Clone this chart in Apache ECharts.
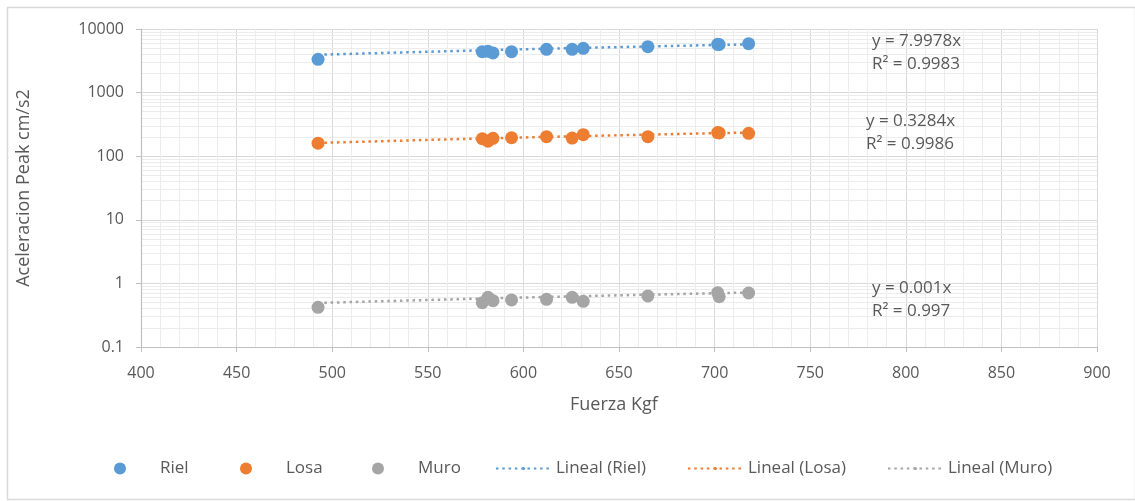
<!DOCTYPE html>
<html>
<head>
<meta charset="utf-8">
<script src="https://cdn.jsdelivr.net/npm/echarts@6/dist/echarts.min.js"></script>
<style>
  html, body { margin: 0; padding: 0; background: #fff; }
  #chart { width: 1135px; height: 501px; }
</style>
</head>
<body>
<div id="chart"></div>
<script>
// Applied force (kgf) for each test run
const fuerza = [492.6, 578.5, 581.5, 584.1, 593.8, 612.1, 625.5, 631.3, 665.1, 701.6, 702.4, 717.8];
// Peak acceleration (cm/s2) measured on the rail, the slab and the wall
const riel = [3340, 4400, 4450, 4200, 4400, 4790, 4790, 4970, 5270, 5740, 5700, 5880];
const losa = [160, 188, 172, 191, 195, 203, 193, 218, 203, 235, 232, 229];
const muro = [0.421, 0.498, 0.604, 0.535, 0.55, 0.562, 0.604, 0.523, 0.634, 0.715, 0.618, 0.706];

// Linear trendlines through the origin: slope and R²
const seriesNames = ['Riel', 'Losa', 'Muro'];
const trendSlope = [7.9978, 0.3284, 0.001];
const trendR2 = ['0.9983', '0.9986', '0.997'];

// Axis ranges and ticks
const xTicks = [400, 450, 500, 550, 600, 650, 700, 750, 800, 850, 900];
const yTicks = [0.1, 1, 10, 100, 1000, 10000];

const colors = ['#5B9BD5', '#ED7D31', '#A5A5A5'];
const FONT = '"Open Sans", "Noto Sans", sans-serif';
const TEXT = '#595959';

const values = [riel, losa, muro];

// Log-spaced minor gridlines (2..9 within each decade)
const minorY = [];
for (let d = 0; d < yTicks.length - 1; d++) {
  for (let m = 2; m <= 9; m++) minorY.push({ yAxis: +(yTicks[d] * m).toPrecision(3) });
}

const xsSorted = Array.from(new Set(fuerza)).sort((a, b) => a - b);

const series = [];
seriesNames.forEach((name, i) => {
  series.push({
    name: name,
    type: 'scatter',
    symbol: 'circle',
    symbolSize: 13,
    itemStyle: { color: colors[i], opacity: 1 },
    z: 4,
    data: fuerza.map((x, j) => [x, values[i][j]])
  });
});
seriesNames.forEach((name, i) => {
  series.push({
    name: 'Lineal (' + name + ')',
    type: 'line',
    symbol: 'none',
    smooth: false,
    z: 3,
    lineStyle: { color: colors[i], width: 2.5, type: [2.5, 3.8] },
    itemStyle: { color: colors[i] },
    data: xsSorted.map(x => [x, trendSlope[i] * x])
  });
});
// minor horizontal gridlines
series.push({
  type: 'scatter',
  data: [],
  silent: true,
  z: 0,
  markLine: {
    silent: true,
    symbol: ['none', 'none'],
    label: { show: false },
    z: 0,
    lineStyle: { color: '#ececec', width: 1, type: 'solid' },
    emphasis: { disabled: true },
    animation: false,
    data: minorY
  }
});

const legendBase = {
  top: 455,
  itemHeight: 12,
  textStyle: { fontFamily: FONT, fontSize: 17, color: TEXT },
  selectedMode: false
};
const lineLegend = (name, left) => Object.assign({}, legendBase, {
  left: left, itemWidth: 55, itemHeight: 4, data: [name]
});
const legends = [
  Object.assign({}, legendBase, { left: 109, itemWidth: 70, data: [{ name: 'Riel', icon: 'circle' }] }),
  Object.assign({}, legendBase, { left: 235, itemWidth: 70, data: [{ name: 'Losa', icon: 'circle' }] }),
  Object.assign({}, legendBase, { left: 367, itemWidth: 70, data: [{ name: 'Muro', icon: 'circle' }] }),
  lineLegend('Lineal (Riel)', 490),
  lineLegend('Lineal (Losa)', 682),
  lineLegend('Lineal (Muro)', 882)
];

// Trendline equations
const eqPos = [[872, 30], [866, 110], [872, 277]];
const eqText = [];
seriesNames.forEach((name, i) => {
  eqText.push({
    type: 'text', left: eqPos[i][0], top: eqPos[i][1], z: 10,
    style: {
      text: 'y = ' + trendSlope[i] + 'x\nR² = ' + trendR2[i],
      fontFamily: FONT, fontSize: 17, fill: TEXT, lineHeight: 23
    }
  });
});

const chart = echarts.init(document.getElementById('chart'), null, { renderer: 'canvas' });
chart.setOption({
  animation: false,
  backgroundColor: '#ffffff',
  color: colors,
  grid: { left: 141, right: 38, top: 29, bottom: 154, containLabel: false },
  legend: legends,
  graphic: [
    {
      type: 'rect', left: 5, top: 5, z: -1, silent: true,
      shape: { width: 1128, height: 492 },
      style: { fill: 'none', stroke: '#d9d9d9', lineWidth: 1.5 }
    },
    {
      type: 'text', left: 570, top: 396,
      style: { text: 'Fuerza Kgf', fontFamily: FONT, fontSize: 18, fill: TEXT }
    }
  ].concat(eqText),
  xAxis: {
    type: 'value',
    min: xTicks[0],
    max: xTicks[xTicks.length - 1],
    interval: xTicks[1] - xTicks[0],
    name: '',
    axisLine: { show: true, lineStyle: { color: '#bfbfbf', width: 1.2 } },
    axisTick: { show: true, length: 5, lineStyle: { color: '#bfbfbf' } },
    axisLabel: { margin: 18, fontFamily: FONT, fontSize: 16, color: TEXT },
    splitLine: { show: true, lineStyle: { color: '#d9d9d9', width: 1 } },
    minorTick: { show: false, splitNumber: 5 },
    minorSplitLine: { show: true, lineStyle: { color: '#ececec', width: 1 } }
  },
  yAxis: {
    type: 'log',
    logBase: 10,
    min: yTicks[0],
    max: yTicks[yTicks.length - 1],
    name: 'Aceleracion Peak cm/s2',
    nameLocation: 'middle',
    nameGap: 108,
    nameTextStyle: { fontFamily: FONT, fontSize: 18, color: TEXT },
    axisLine: { show: true, onZero: false, lineStyle: { color: '#bfbfbf', width: 1.2 } },
    axisTick: { show: true, length: 5, lineStyle: { color: '#bfbfbf' } },
    axisLabel: {
      margin: 17, fontFamily: FONT, fontSize: 16, color: TEXT,
      formatter: v => String(+v.toPrecision(3))
    },
    splitLine: { show: true, lineStyle: { color: '#d9d9d9', width: 1 } }
  },
  series: series
});
</script>
</body>
</html>
